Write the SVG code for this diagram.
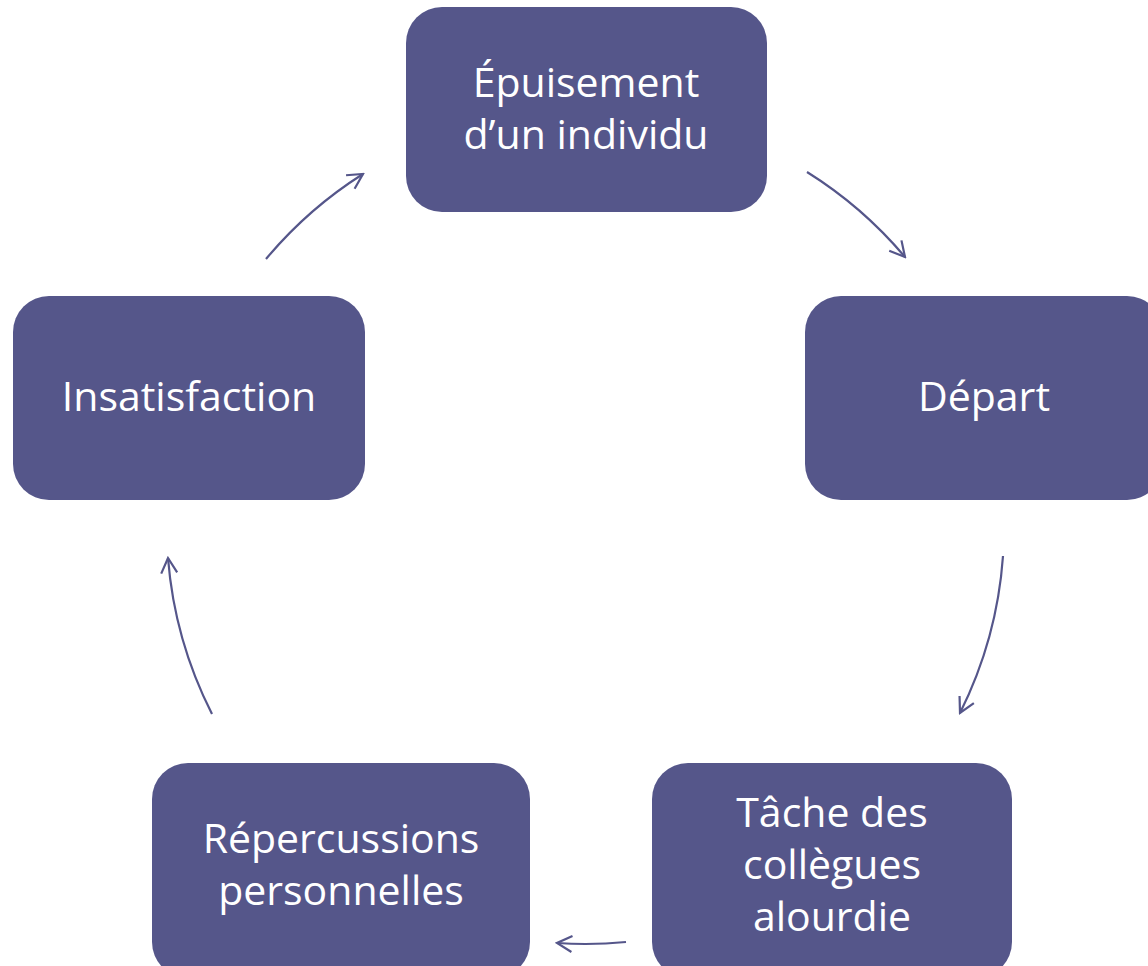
<svg xmlns="http://www.w3.org/2000/svg" width="1148" height="966" viewBox="0 0 1148 966">
<defs>
<style>
.box{fill:#55568A;}
.lbl{fill:#FFFFFF;font-family:"Open Sans","Noto Sans","Liberation Sans",sans-serif;font-size:41px;text-anchor:middle;}
.arc{fill:none;stroke:#55568A;stroke-width:2.2;marker-end:url(#ah);}
</style>
<marker id="ah" viewBox="0 0 20 20" refX="18" refY="10" markerWidth="20" markerHeight="20" markerUnits="userSpaceOnUse" orient="auto">
<polyline points="3,2 18,10 3,18" fill="none" stroke="#55568A" stroke-width="2.2"/>
</marker>
</defs>
<rect width="1148" height="966" fill="#FFFFFF"/>
<g id="connectors">
<path class="arc" d="M807,172 A417,417 0 0 1 905,257"/>
<path class="arc" d="M1003,556 A417,417 0 0 1 960,713"/>
<path class="arc" d="M626,942 A417,417 0 0 1 557,943"/>
<path class="arc" d="M212,714 A417,417 0 0 1 168,558"/>
<path class="arc" d="M266,259 A417,417 0 0 1 363,174"/>
</g>
<g id="node-epuisement">
<rect class="box" x="406" y="7" width="361" height="205" rx="36"/>
<text class="lbl" x="586" y="97">Épuisement</text>
<text class="lbl" x="586" y="149">d’un individu</text>
</g>
<g id="node-depart">
<rect class="box" x="805" y="296" width="358" height="204" rx="36"/>
<text class="lbl" x="984" y="411">Départ</text>
</g>
<g id="node-tache">
<rect class="box" x="652" y="763" width="360" height="215" rx="36"/>
<text class="lbl" x="832" y="827">Tâche des</text>
<text class="lbl" x="832" y="879">collègues</text>
<text class="lbl" x="832" y="931">alourdie</text>
</g>
<g id="node-repercussions">
<rect class="box" x="152" y="763" width="378" height="215" rx="36"/>
<text class="lbl" x="341" y="853">Répercussions</text>
<text class="lbl" x="341" y="905">personnelles</text>
</g>
<g id="node-insatisfaction">
<rect class="box" x="13" y="296" width="352" height="204" rx="36"/>
<text class="lbl" x="189" y="411">Insatisfaction</text>
</g>
</svg>
